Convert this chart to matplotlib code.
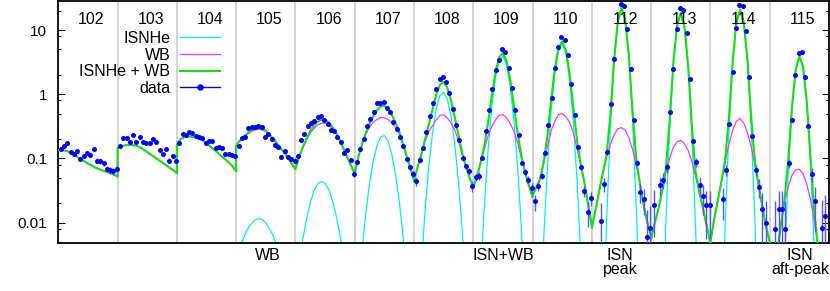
import numpy as np
import matplotlib
matplotlib.use('Agg')
import matplotlib.pyplot as plt
import matplotlib.transforms as mtransforms
from matplotlib.lines import Line2D

plt.rcParams['font.family'] = ['Liberation Sans', 'DejaVu Sans']

nan = np.nan

orbits = ['102', '103', '104', '105', '106', '107', '108',
          '109', '110', '112', '113', '114', '115']

# model curves, read at 17 evenly spaced points across each orbit
total_model = [
    [0.135, 0.135, 0.132, 0.126, 0.117, 0.107, 0.098, 0.091, 0.083, 0.078, 0.072, 0.068, 0.065, 0.062, 0.059, 0.056, 0.052],
    [0.145, 0.155, 0.160, 0.162, 0.162, 0.158, 0.151, 0.138, 0.126, 0.115, 0.105, 0.095, 0.087, 0.079, 0.072, 0.066, 0.059],
    [0.166, 0.200, 0.214, 0.219, 0.219, 0.214, 0.204, 0.190, 0.174, 0.155, 0.138, 0.123, 0.110, 0.098, 0.087, 0.076, 0.063],
    [0.158, 0.190, 0.219, 0.245, 0.270, 0.288, 0.295, 0.288, 0.270, 0.234, 0.204, 0.174, 0.145, 0.123, 0.102, 0.083, 0.068],
    [0.069, 0.105, 0.151, 0.204, 0.269, 0.324, 0.372, 0.398, 0.398, 0.363, 0.309, 0.251, 0.191, 0.141, 0.105, 0.078, 0.0575],
    [0.0575, 0.107, 0.170, 0.251, 0.347, 0.457, 0.562, 0.646, 0.661, 0.589, 0.479, 0.363, 0.263, 0.170, 0.110, 0.071, 0.046],
    [0.045, 0.0742, 0.117, 0.200, 0.339, 0.575, 0.987, 1.42, 1.55, 1.26, 0.80, 0.44, 0.234, 0.123, 0.075, 0.050, 0.0355],
    [0.0355, 0.0526, 0.0867, 0.160, 0.362, 0.946, 2.22, 3.78, 4.37, 3.25, 1.64, 0.633, 0.243, 0.108, 0.0606, 0.038, 0.025],
    [0.0263, 0.0355, 0.047, 0.0887, 0.223, 0.794, 2.52, 5.27, 6.67, 4.82, 2.06, 0.621, 0.191, 0.0808, 0.0418, 0.0191, 0.0087],
    [0.0083, 0.0158, 0.0316, 0.0605, 0.117, 0.468, 3.39, 13.5, 22.0, 14.4, 3.93, 0.527, 0.0956, 0.0401, 0.0182, 0.010, 0.006],
    [0.0056, 0.010, 0.0166, 0.0318, 0.071, 0.39, 3.14, 11.9, 18.4, 11.2, 2.70, 0.318, 0.0606, 0.0302, 0.0166, 0.0089, 0.0048],
    [0.005, 0.0112, 0.0224, 0.0447, 0.0986, 0.435, 3.27, 13.0, 20.8, 13.3, 3.41, 0.446, 0.090, 0.038, 0.0178, 0.0089, 0.005],
    [0.0003, 0.0011, 0.0035, 0.0093, 0.0229, 0.0952, 0.63, 2.41, 3.93, 2.69, 0.781, 0.108, 0.015, 0.0044, 0.0014, 0.0004, 0.0001],
]

# WB alone is the whole model on the first three orbits
wb_model = [
    total_model[0],
    total_model[1],
    total_model[2],
    [0.156, 0.186, 0.213, 0.237, 0.260, 0.277, 0.284, 0.277, 0.260, 0.226, 0.198, 0.170, 0.142, 0.121, 0.101, 0.083, 0.068],
    [0.068, 0.103, 0.146, 0.193, 0.249, 0.293, 0.332, 0.354, 0.357, 0.330, 0.287, 0.238, 0.184, 0.138, 0.104, 0.078, 0.057],
    [0.057, 0.106, 0.166, 0.237, 0.306, 0.366, 0.404, 0.432, 0.432, 0.403, 0.362, 0.305, 0.241, 0.163, 0.108, 0.071, 0.046],
    [0.045, 0.074, 0.115, 0.184, 0.263, 0.324, 0.398, 0.468, 0.479, 0.427, 0.355, 0.275, 0.190, 0.115, 0.074, 0.050, 0.0355],
    [0.0355, 0.0525, 0.085, 0.141, 0.224, 0.316, 0.398, 0.468, 0.479, 0.427, 0.347, 0.263, 0.174, 0.100, 0.060, 0.038, 0.025],
    [0.0263, 0.0355, 0.0468, 0.0832, 0.151, 0.269, 0.380, 0.479, 0.501, 0.447, 0.363, 0.251, 0.145, 0.0776, 0.0417, 0.0191, 0.0087],
    [0.0083, 0.0158, 0.0316, 0.0603, 0.105, 0.166, 0.234, 0.288, 0.302, 0.275, 0.209, 0.138, 0.0794, 0.0398, 0.0182, 0.010, 0.006],
    [0.0056, 0.010, 0.0166, 0.0316, 0.060, 0.102, 0.148, 0.182, 0.191, 0.170, 0.132, 0.0891, 0.0525, 0.0302, 0.0166, 0.0089, 0.0048],
    [0.005, 0.0112, 0.0224, 0.0447, 0.0891, 0.166, 0.275, 0.380, 0.417, 0.355, 0.251, 0.151, 0.0794, 0.038, 0.0178, 0.0089, 0.005],
    [0.0003, 0.0011, 0.0035, 0.0093, 0.0204, 0.0363, 0.055, 0.0668, 0.068, 0.0575, 0.0398, 0.0229, 0.011, 0.0044, 0.0014, 0.0004, 0.0001],
]

# ISN He stays far below the axis on 102-104
isn_model = [
    None,
    None,
    None,
    [0.0025, 0.004, 0.0058, 0.0078, 0.0095, 0.011, 0.0115, 0.0112, 0.010, 0.0081, 0.0062, 0.0043, 0.0028, 0.0016, 0.0009, 0.00046, 0.0002],
    [0.0008, 0.0022, 0.0055, 0.0115, 0.0204, 0.031, 0.040, 0.044, 0.041, 0.033, 0.022, 0.013, 0.0065, 0.0028, 0.001, 0.0003, 0.0001],
    [0.00013, 0.0008, 0.0038, 0.014, 0.041, 0.091, 0.158, 0.214, 0.229, 0.186, 0.117, 0.0575, 0.022, 0.0066, 0.0015, 0.0003, 0.00004],
    [2e-5, 0.0002, 0.0022, 0.0155, 0.076, 0.251, 0.589, 0.955, 1.07, 0.832, 0.447, 0.166, 0.0437, 0.0078, 0.001, 0.0001, 5e-6],
    [3e-6, 0.0001, 0.0017, 0.019, 0.138, 0.63, 1.82, 3.31, 3.89, 2.82, 1.29, 0.37, 0.069, 0.0079, 0.0006, 3e-5, 1e-6],
    [1e-7, 6e-6, 0.0002, 0.0055, 0.072, 0.525, 2.14, 4.79, 6.17, 4.37, 1.70, 0.37, 0.046, 0.0032, 0.0001, 3e-6, 1e-7],
    [1e-9, 1e-7, 1e-5, 0.0002, 0.0117, 0.302, 3.16, 13.2, 21.7, 14.1, 3.72, 0.389, 0.0162, 0.0003, 1e-6, 1e-9, 1e-12],
    [1e-9, 1e-7, 1e-5, 0.0002, 0.011, 0.288, 2.99, 11.7, 18.2, 11.0, 2.57, 0.229, 0.0081, 0.0002, 1e-6, 1e-9, 1e-12],
    [1e-9, 1e-7, 1e-5, 0.0002, 0.0095, 0.269, 2.99, 12.6, 20.4, 12.9, 3.16, 0.295, 0.0107, 0.0002, 1e-6, 1e-9, 1e-12],
    [1e-9, 1e-7, 1e-5, 4e-5, 0.0025, 0.0589, 0.575, 2.34, 3.86, 2.63, 0.741, 0.0851, 0.0041, 8e-5, 1e-6, 1e-9, 1e-12],
]

# measured rate, 18 bins per orbit (nan = not visible on the plot)
rate = [
    [0.140, 0.155, 0.172, 0.125, 0.117, 0.129, 0.098, 0.111, 0.122, 0.115, 0.139, 0.092, 0.090, 0.084, 0.069, 0.066, 0.063, 0.069],
    [0.158, 0.206, 0.206, 0.178, 0.234, 0.182, 0.213, 0.182, 0.172, 0.172, 0.201, 0.182, 0.135, 0.117, 0.140, 0.092, 0.109, 0.092],
    [0.172, 0.240, 0.234, 0.261, 0.245, 0.226, 0.218, 0.206, 0.172, 0.189, 0.185, 0.144, 0.153, 0.144, 0.117, 0.117, 0.115, 0.111],
    [0.158, 0.208, 0.218, 0.297, 0.304, 0.304, 0.315, 0.304, 0.218, 0.240, 0.200, 0.162, 0.149, 0.107, 0.132, 0.107, 0.098, 0.092],
    [0.111, 0.196, 0.240, 0.315, 0.356, 0.386, 0.436, 0.462, 0.396, 0.343, 0.277, 0.270, 0.213, 0.178, 0.122, 0.137, 0.096, 0.058],
    [0.089, 0.141, 0.201, 0.323, 0.410, 0.532, 0.718, 0.743, 0.762, 0.600, 0.520, 0.364, 0.287, 0.213, 0.155, 0.098, 0.073, 0.058],
    [0.044, 0.096, 0.144, 0.255, 0.462, 0.743, 1.20, 1.71, 1.88, 1.56, 1.06, 0.586, 0.331, 0.196, 0.101, 0.076, 0.063, 0.037],
    [0.052, 0.054, 0.10, 0.263, 0.562, 1.20, 2.40, 3.47, 5.0, 4.57, 2.57, 1.26, 0.562, 0.229, 0.085, 0.062, 0.047, 0.035],
    [0.0214, 0.037, 0.054, 0.122, 0.331, 0.888, 2.53, 5.48, 7.83, 6.95, 4.03, 1.46, 0.473, 0.153, 0.073, 0.031, 0.0147, 0.024],
    [nan, nan, 0.0105, 0.040, 0.125, 0.70, 3.57, nan, 25.8, 24.0, 10.5, 2.44, 0.40, 0.085, 0.030, 0.023, 0.006, 0.0083],
    [0.019, nan, 0.039, 0.047, 0.073, 0.52, 2.50, 10.4, 22.1, 20.8, 9.0, 1.71, 0.19, 0.087, 0.039, 0.026, 0.0186, 0.0186],
    [nan, nan, nan, 0.023, 0.066, 0.343, 2.22, 10.8, 24.5, 24.0, 9.8, 1.88, 0.22, 0.066, 0.036, 0.0166, 0.010, nan],
    [nan, 0.0081, 0.0166, 0.0166, 0.0081, 0.085, 0.40, 1.97, 4.43, 4.59, 1.86, 0.315, 0.057, 0.0214, nan, 0.0083, 0.0126, nan],
]
# typical error bar half-length per orbit
rate_err = [0.008, 0.008, 0.008, 0.008, 0.007, 0.007, 0.007, 0.007, 0.006, 0.010, 0.013, 0.012, 0.014]

regions = ['WB', 'ISN+WB', 'ISN\npeak', 'ISN\naft-peak']
region_x = [3.54, 7.50, 9.48, 12.51]

C_ISN = '#00f0f0'
C_WB = '#ff30ff'
C_TOT = '#11e011'
C_DATA = '#0000ff'

fig = plt.figure(figsize=(8.3, 2.91), dpi=100)
ax = fig.add_axes([0.0702, 0.165, 0.9286, 0.8316])

n = len(orbits)
t_model = np.linspace(0, 1, 17)
t_data = (np.arange(18) + 0.75) / 18

for i in range(1, n):
    ax.axvline(i, color='#d3d3d3', lw=1.4, zorder=0)

xm = np.concatenate([i + t_model for i in range(n)])
isn_x = np.concatenate([i + t_model for i in range(n) if isn_model[i] is not None])
isn_y = np.concatenate([v for v in isn_model if v is not None])
ax.plot(isn_x, isn_y, color=C_ISN, lw=0.9, zorder=2)
ax.plot(xm, np.concatenate(wb_model), color=C_WB, lw=0.9, zorder=3)
ax.plot(xm, np.concatenate(total_model), color=C_TOT, lw=1.5, zorder=4)

xd = np.concatenate([i + t_data for i in range(n)])
yd = np.concatenate(rate)
ed = np.concatenate([np.full(18, rate_err[i]) for i in range(n)])
ax.errorbar(xd, yd, yerr=ed, fmt='o', color=C_DATA, ms=3.6, mew=0,
            ecolor='#5555ff', elinewidth=1.0, capsize=0, zorder=5)

ax.set_yscale('log')
ax.set_yticks([0.01, 0.1, 1, 10])
ax.set_yticklabels(['0.01', '0.1', '1', '10'])
ax.set_yticks([m * 10.0 ** e for e in range(-3, 2) for m in (2, 5, 8)], minor=True)
ax.yaxis.set_minor_formatter(matplotlib.ticker.NullFormatter())
ax.set_xticks([])
# limits after the ticks, set_yticks widens the view otherwise
ax.set_ylim(0.00483, 28.3)
ax.set_xlim(0, n)
ax.tick_params(axis='y', which='both', direction='in', right=True, labelsize=11, pad=8)
ax.tick_params(axis='y', which='major', length=5, width=0.8)
ax.tick_params(axis='y', which='minor', length=2.5, width=0.8)
for sp in ax.spines.values():
    sp.set_linewidth(1.3)

trans = mtransforms.blended_transform_factory(ax.transData, ax.transAxes)
for i, name in enumerate(orbits):
    ax.text(i + 0.56, 0.923, name, transform=trans, ha='center', va='center',
            fontsize=11.5, zorder=6)
for label, x in zip(regions, region_x):
    ax.text(x, -0.02, label, transform=trans, ha='center', va='top',
            fontsize=11.5, linespacing=0.95)

handles = [Line2D([], [], color=C_ISN, lw=0.9),
           Line2D([], [], color=C_WB, lw=0.9),
           Line2D([], [], color=C_TOT, lw=1.5),
           Line2D([], [], color=C_DATA, lw=1.0, marker='o', ms=3.6)]
ax.legend(handles, ['ISNHe', 'WB', 'ISNHe + WB', 'data'], loc='upper right',
          bbox_to_anchor=(220 / 830, 1 - 31 / 291), bbox_transform=fig.transFigure,
          frameon=False, markerfirst=False, handlelength=2.5, handletextpad=0.6,
          labelspacing=0.1, borderpad=0, borderaxespad=0, fontsize=11.5)

fig.savefig('out.png', dpi=100)
